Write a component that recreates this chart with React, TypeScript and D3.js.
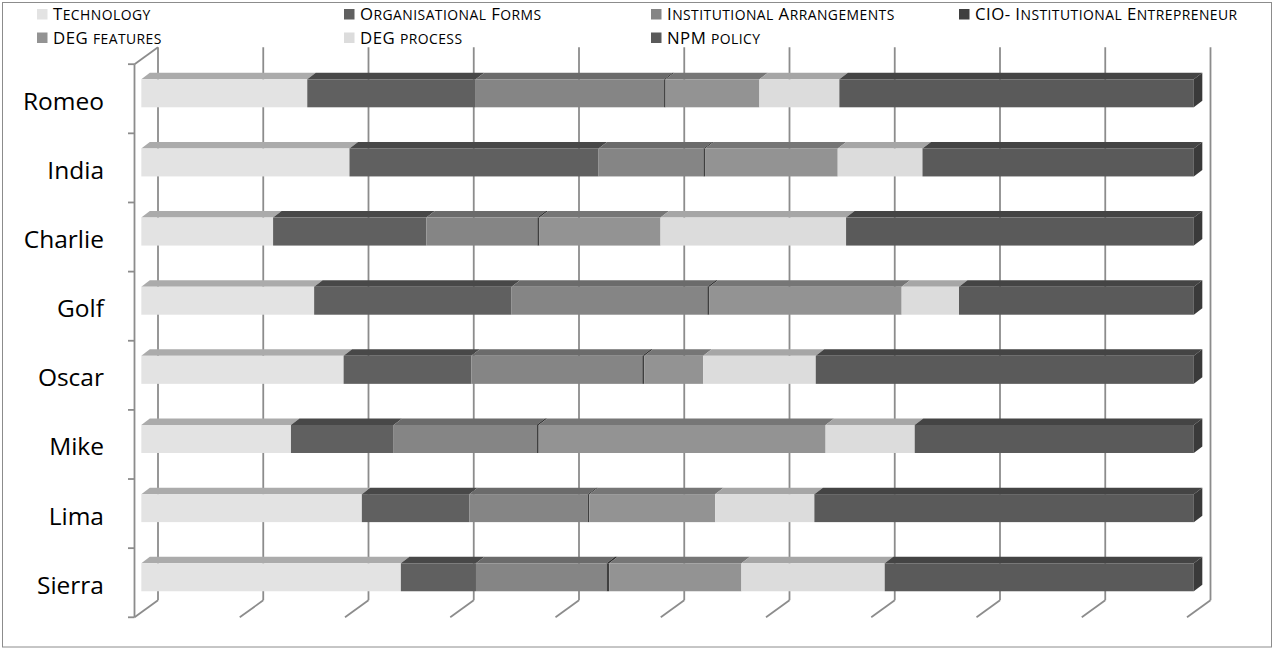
import React from 'react';
import * as d3 from 'd3';

// Interviewee cases (top to bottom) and the seven coded themes
const categories = ['Romeo', 'India', 'Charlie', 'Golf', 'Oscar', 'Mike', 'Lima', 'Sierra'];
const seriesNames = [
  'Technology',
  'Organisational Forms',
  'Institutional Arrangements',
  'CIO- Institutional Entrepreneur',
  'DEG features',
  'DEG process',
  'NPM policy',
];

// Share of coded references per theme (percent of each case)
const technology = [15.75, 19.77, 12.52, 16.42, 19.22, 14.22, 20.94, 24.67];
const organisationalForms = [15.99, 23.66, 14.56, 18.76, 12.13, 9.76, 10.2, 7.14];
const institutionalArrangements = [17.87, 9.96, 10.55, 18.6, 16.25, 13.58, 11.25, 12.41];
const cioEntrepreneur = [0.15, 0.15, 0.2, 0.2, 0.2, 0.2, 0.15, 0.25];
const degFeatures = [8.9, 12.6, 11.5, 18.26, 5.59, 27.26, 11.94, 12.57];
const degProcess = [7.59, 8.05, 17.63, 5.45, 10.69, 8.47, 9.43, 13.62];
const npmPolicy = [33.64, 25.77, 33.04, 22.31, 35.92, 26.52, 36.03, 29.38];

const seriesValues = [
  technology,
  organisationalForms,
  institutionalArrangements,
  cioEntrepreneur,
  degFeatures,
  degProcess,
  npmPolicy,
];

const gridTicks = [0, 0.1, 0.2, 0.3, 0.4, 0.5, 0.6, 0.7, 0.8, 0.9, 1];

// Greyscale 3-D shading: front faces, top faces
const frontColors = ['#e3e3e3', '#606060', '#858585', '#3f3f3f', '#939393', '#dcdcdc', '#5a5a5a'];
const topColors = ['#ababab', '#484848', '#6b6b6b', '#2e2e2e', '#767676', '#a6a6a6', '#444444'];
const sideColor = '#3a3a3a';
const gridColor = '#8c8c8c';

const W = 1275;
const H = 648;

// Oblique projection of the floor depth
const depthDX = 23.5;
const depthDY = -17;
const floorFront = 617.3;
const floorBack = floorFront + depthDY;
const wallTop = 47.2;
const barDepthFront = 0.29;
const barDX = 8.5;
const barDY = -6.5;
const barH = 28;
const barOffsetInBand = 15.1;

const legendCols = [37, 344, 651, 959];
const legendRows = [20, 43.5];

function smallCapsRuns(s: string) {
  const runs: { text: string; small: boolean }[] = [];
  for (const ch of s) {
    const small = ch !== ch.toUpperCase();
    const last = runs[runs.length - 1];
    if (last && last.small === small) last.text += ch;
    else runs.push({ text: ch, small });
  }
  return runs;
}

export default function App() {
  const rows = categories.map((c, i) => {
    const r: Record<string, number | string> = { name: c };
    seriesNames.forEach((s, j) => (r[s] = seriesValues[j][i]));
    return r;
  });
  const stacked = d3
    .stack<Record<string, number | string>>()
    .keys(seriesNames)
    .value((d, k) => d[k] as number)
    .offset(d3.stackOffsetExpand)(rows);

  // x on the front edge of the floor
  const x = d3.scaleLinear().domain([0, 1]).range([134.5, 1187]);
  const y = d3.scaleBand().domain(categories).range([64.2, floorFront]).paddingInner(0).paddingOuter(0);
  const bw = y.bandwidth();
  const fx = barDepthFront * depthDX;

  const font = "'Open Sans', 'DejaVu Sans', sans-serif";

  return (
    <svg
      width={W}
      height={H}
      viewBox={`0 0 ${W} ${H}`}
      style={{ position: 'absolute', left: 0, top: 0, background: '#fff' }}
    >
      <rect x={2.5} y={2.5} width={1269} height={644.5} fill="#fff" stroke="#8c8c8c" strokeWidth={1} />

      {/* back-wall gridlines and floor edges */}
      {gridTicks.map((t) => {
        const bx = x(t) + depthDX;
        return (
          <g key={t} stroke={gridColor} strokeWidth={1.8} fill="none">
            <line x1={bx} x2={bx} y1={wallTop} y2={floorBack} />
            <line x1={bx} y1={floorBack} x2={x(t)} y2={floorFront} />
          </g>
        );
      })}

      {/* category axis on the front-left edge */}
      <g stroke={gridColor} strokeWidth={1.8} fill="none">
        <line x1={x(0)} x2={x(0)} y1={y.range()[0]} y2={floorFront} />
        <line x1={x(0)} y1={y.range()[0]} x2={x(0) + depthDX} y2={y.range()[0] + depthDY} />
        {[...categories.map((c) => y(c) as number), floorFront].map((ty, i) => (
          <line key={i} x1={x(0) - 6.5} x2={x(0)} y1={ty} y2={ty} />
        ))}
      </g>

      {/* stacked 3-D bars */}
      {categories.map((c, ci) => {
        const top = (y(c) as number) + barOffsetInBand;
        const bottom = top + barH;
        return (
          <g key={c}>
            {stacked.map((layer, si) => {
              const d = layer[ci];
              const x0 = x(d[0]) + fx;
              const x1 = x(d[1]) + fx;
              if (x1 - x0 <= 0) return null;
              return (
                <g key={si}>
                  <polygon
                    points={`${x0},${top} ${x1},${top} ${x1 + barDX},${top + barDY} ${x0 + barDX},${top + barDY}`}
                    fill={topColors[si]}
                  />
                  <rect x={x0} y={top} width={x1 - x0} height={barH} fill={frontColors[si]} />
                </g>
              );
            })}
            {(() => {
              const xe = x(1) + fx;
              return (
                <polygon
                  points={`${xe},${top} ${xe + barDX},${top + barDY} ${xe + barDX},${bottom + barDY} ${xe},${bottom}`}
                  fill={sideColor}
                />
              );
            })()}
            <text
              x={104}
              y={(y(c) as number) + bw / 2 + 11}
              textAnchor="end"
              fontFamily={font}
              fontSize={24.5}
              fill="#000"
            >
              {c}
            </text>
          </g>
        );
      })}

      {/* legend */}
      {seriesNames.map((s, i) => {
        const col = i % 4;
        const row = Math.floor(i / 4);
        const lx = legendCols[col];
        const ly = legendRows[row];
        return (
          <g key={s}>
            <rect x={lx} y={ly - 11} width={10.5} height={10.5} fill={frontColors[i]} />
            <text x={lx + 16} y={ly} fontFamily={font} fill="#000" letterSpacing={0.45}>
              {smallCapsRuns(s).map((r, k) => (
                <tspan key={k} fontSize={r.small ? 13.9 : 16.8}>
                  {r.small ? r.text.toUpperCase() : r.text}
                </tspan>
              ))}
            </text>
          </g>
        );
      })}
    </svg>
  );
}
